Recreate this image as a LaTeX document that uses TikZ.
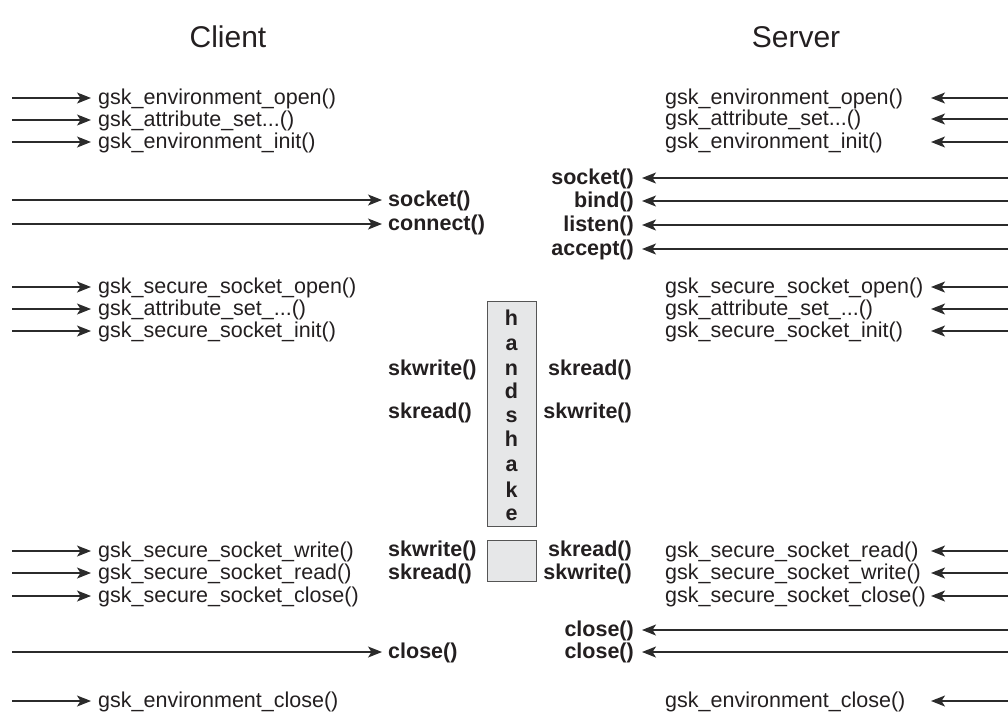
\documentclass[tikz,border=0pt]{standalone}
\usepackage{fontspec}
\setmainfont{Liberation Sans}
\usetikzlibrary{arrows.meta}
\definecolor{ink}{HTML}{231F20}
\definecolor{linec}{HTML}{2B2B2B}
\definecolor{boxfill}{HTML}{E6E7E8}
\definecolor{boxline}{HTML}{555555}
\begin{document}
\begin{tikzpicture}[x=1pt,y=-1pt,
  lbl/.style={inner sep=0pt, font=\fontsize{21.5}{24}\selectfont, text=ink},
  blbl/.style={inner sep=0pt, font=\fontsize{21.5}{24}\selectfont\bfseries, text=ink},
  call/.style={draw=linec, line width=1.3pt, -{Stealth[length=14pt,width=11pt,inset=3.5pt]}},
  hbox/.style={draw=boxline, fill=boxfill, line width=1pt},
  ttl/.style={inner sep=0pt, font=\fontsize{30}{36}\selectfont, text=ink}]
\useasboundingbox (0,0) rectangle (1008,713);

% titles
\node[ttl, anchor=base] (client) at (228,47) {Client};
\node[ttl, anchor=base] (server) at (796,47) {Server};

% client: short calls
\foreach \n/\y/\t in {
  ca/98/{gsk\_environment\_open()},
  cb/120/{gsk\_attribute\_set...()},
  cc/142/{gsk\_environment\_init()},
  cd/287/{gsk\_secure\_socket\_open()},
  ce/309/{gsk\_attribute\_set\_...()},
  cf/331/{gsk\_secure\_socket\_init()},
  cg/551/{gsk\_secure\_socket\_write()},
  ch/573/{gsk\_secure\_socket\_read()},
  ci/596/{gsk\_secure\_socket\_close()},
  cj/701/{gsk\_environment\_close()}}{
  \node[lbl, anchor=base west] (\n) at (98,\y+6.5) {\t};
  \coordinate (\n s) at (12,\y);
  \coordinate (\n t) at (91,\y);
  \draw[call] (\n s) -- (\n t);
}

% client: long calls
\foreach \n/\y/\t in {
  cs/200/{socket()},
  cn/224/{connect()},
  cx/652/{close()}}{
  \node[blbl, anchor=base west] (\n) at (388,\y+6.5) {\t};
  \coordinate (\n s) at (12,\y);
  \coordinate (\n t) at (382,\y);
  \draw[call] (\n s) -- (\n t);
}

% client: handshake labels
\node[blbl, anchor=base west] (cw1) at (388,375.5) {skwrite()};
\node[blbl, anchor=base west] (cr1) at (388,418.5) {skread()};
\node[blbl, anchor=base west] (cw2) at (388,556.5) {skwrite()};
\node[blbl, anchor=base west] (cr2) at (388,579.5) {skread()};

% server: short calls
\foreach \n/\y/\t in {
  sa/98/{gsk\_environment\_open()},
  sb/119/{gsk\_attribute\_set...()},
  sc/142/{gsk\_environment\_init()},
  sd/287/{gsk\_secure\_socket\_open()},
  se/309/{gsk\_attribute\_set\_...()},
  sf/331/{gsk\_secure\_socket\_init()},
  sg/551/{gsk\_secure\_socket\_read()},
  sh/573/{gsk\_secure\_socket\_write()},
  si/596/{gsk\_secure\_socket\_close()},
  sj/701/{gsk\_environment\_close()}}{
  \node[lbl, anchor=base west] (\n) at (665,\y+6.5) {\t};
  \coordinate (\n s) at (1008,\y);
  \coordinate (\n t) at (931,\y);
  \draw[call] (\n s) -- (\n t);
}

% server: long calls
\foreach \n/\y/\t in {
  ss/178/{socket()},
  sk/201/{bind()},
  sl/225/{listen()},
  sm/249/{accept()},
  sx/630/{close()},
  sy/652/{close()}}{
  \node[blbl, anchor=base east] (\n) at (634,\y+6.5) {\t};
  \coordinate (\n s) at (1008,\y);
  \coordinate (\n t) at (642,\y);
  \draw[call] (\n s) -- (\n t);
}

% server: handshake labels
\node[blbl, anchor=base east] (sr1) at (632,375.5) {skread()};
\node[blbl, anchor=base east] (sw1) at (632,418.5) {skwrite()};
\node[blbl, anchor=base east] (sr2) at (632,556.5) {skread()};
\node[blbl, anchor=base east] (sw2) at (632,579.5) {skwrite()};

% handshake boxes
\draw[hbox] (487,301) rectangle (536,526);
\draw[hbox] (487,540) rectangle (536,581);
\foreach \n/\y/\l in {h1/318/h, h2/343/a, h3/368/n, h4/391/d, h5/415/s,
                      h6/439/h, h7/464/a, h8/490/k, h9/513/e}{
  \node[blbl, anchor=base] (\n) at (511.5,\y+7) {\l};
}
\end{tikzpicture}
\end{document}
